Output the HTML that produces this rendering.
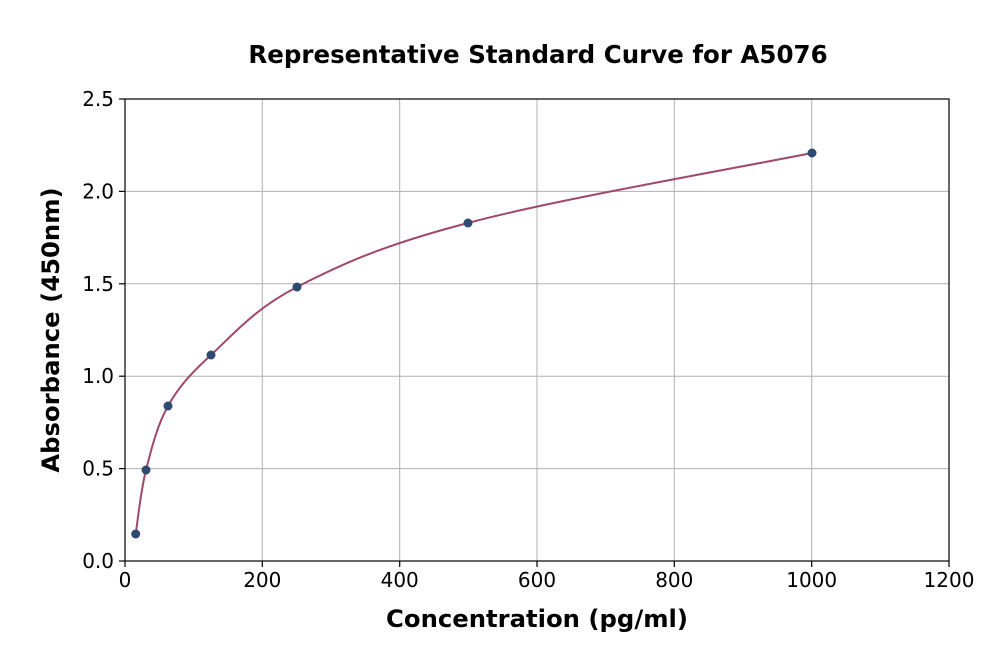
<!DOCTYPE html>
<html><head><meta charset="utf-8"><style>body{margin:0;background:#fff}svg{display:block}</style></head>
<body>
<svg width="1000" height="660" xmlns="http://www.w3.org/2000/svg" font-family="DejaVu Sans, Liberation Sans, sans-serif">
<rect width="1000" height="660" fill="#fff"/>
<g stroke="#b0b0b0" stroke-width="1">
<line x1="262.3" y1="99" x2="262.3" y2="561"/>
<line x1="399.7" y1="99" x2="399.7" y2="561"/>
<line x1="537" y1="99" x2="537" y2="561"/>
<line x1="674.3" y1="99" x2="674.3" y2="561"/>
<line x1="811.7" y1="99" x2="811.7" y2="561"/>
<line x1="125" y1="468.6" x2="949" y2="468.6"/>
<line x1="125" y1="376.2" x2="949" y2="376.2"/>
<line x1="125" y1="283.8" x2="949" y2="283.8"/>
<line x1="125" y1="191.4" x2="949" y2="191.4"/>
</g>
<path d="M135.7,534 C137.4,523.3 140.6,491.3 146,470 C151.4,448.7 157.2,425.2 168,406 C178.8,386.8 189.5,374.8 211,355 C232.5,335.2 254.2,309 297,287 C339.8,265 382.2,245.3 468,223 C553.8,199.7 754.7,164.7 812,153" fill="none" stroke="#a0486a" stroke-width="2"/>
<g fill="#2e4a70">
<circle cx="135.7" cy="534" r="4.5"/><circle cx="146" cy="470" r="4.5"/><circle cx="168" cy="406" r="4.5"/><circle cx="211" cy="355" r="4.5"/><circle cx="297" cy="287" r="4.5"/><circle cx="468" cy="223" r="4.5"/><circle cx="812" cy="153" r="4.5"/>
</g>
<rect x="125" y="99" width="824" height="462" fill="none" stroke="#000" stroke-width="1.2"/>
<g stroke="#000" stroke-width="1.2">
<line x1="125" y1="561" x2="125" y2="567"/><line x1="262.3" y1="561" x2="262.3" y2="567"/><line x1="399.7" y1="561" x2="399.7" y2="567"/><line x1="537" y1="561" x2="537" y2="567"/><line x1="674.3" y1="561" x2="674.3" y2="567"/><line x1="811.7" y1="561" x2="811.7" y2="567"/><line x1="949" y1="561" x2="949" y2="567"/>
<line x1="119" y1="561" x2="125" y2="561"/><line x1="119" y1="468.6" x2="125" y2="468.6"/><line x1="119" y1="376.2" x2="125" y2="376.2"/><line x1="119" y1="283.8" x2="125" y2="283.8"/><line x1="119" y1="191.4" x2="125" y2="191.4"/><line x1="119" y1="99" x2="125" y2="99"/>
</g>
<g font-size="20" text-anchor="middle" fill="#000">
<text x="125" y="587">0</text><text x="262.3" y="587">200</text><text x="399.7" y="587">400</text><text x="537" y="587">600</text><text x="674.3" y="587">800</text><text x="811.7" y="587">1000</text><text x="949" y="587">1200</text>
</g>
<g font-size="20" text-anchor="end" fill="#000">
<text x="114" y="568">0.0</text><text x="114" y="475.6">0.5</text><text x="114" y="383.2">1.0</text><text x="114" y="290.8">1.5</text><text x="114" y="198.4">2.0</text><text x="114" y="106">2.5</text>
</g>
<text x="537" y="627" font-size="24.3" font-weight="bold" text-anchor="middle">Concentration (pg/ml)</text>
<text transform="translate(59,330) rotate(-90)" font-size="24.3" font-weight="bold" text-anchor="middle">Absorbance (450nm)</text>
<text x="538" y="63" font-size="24.5" font-weight="bold" text-anchor="middle">Representative Standard Curve for A5076</text>
</svg>
</body></html>
